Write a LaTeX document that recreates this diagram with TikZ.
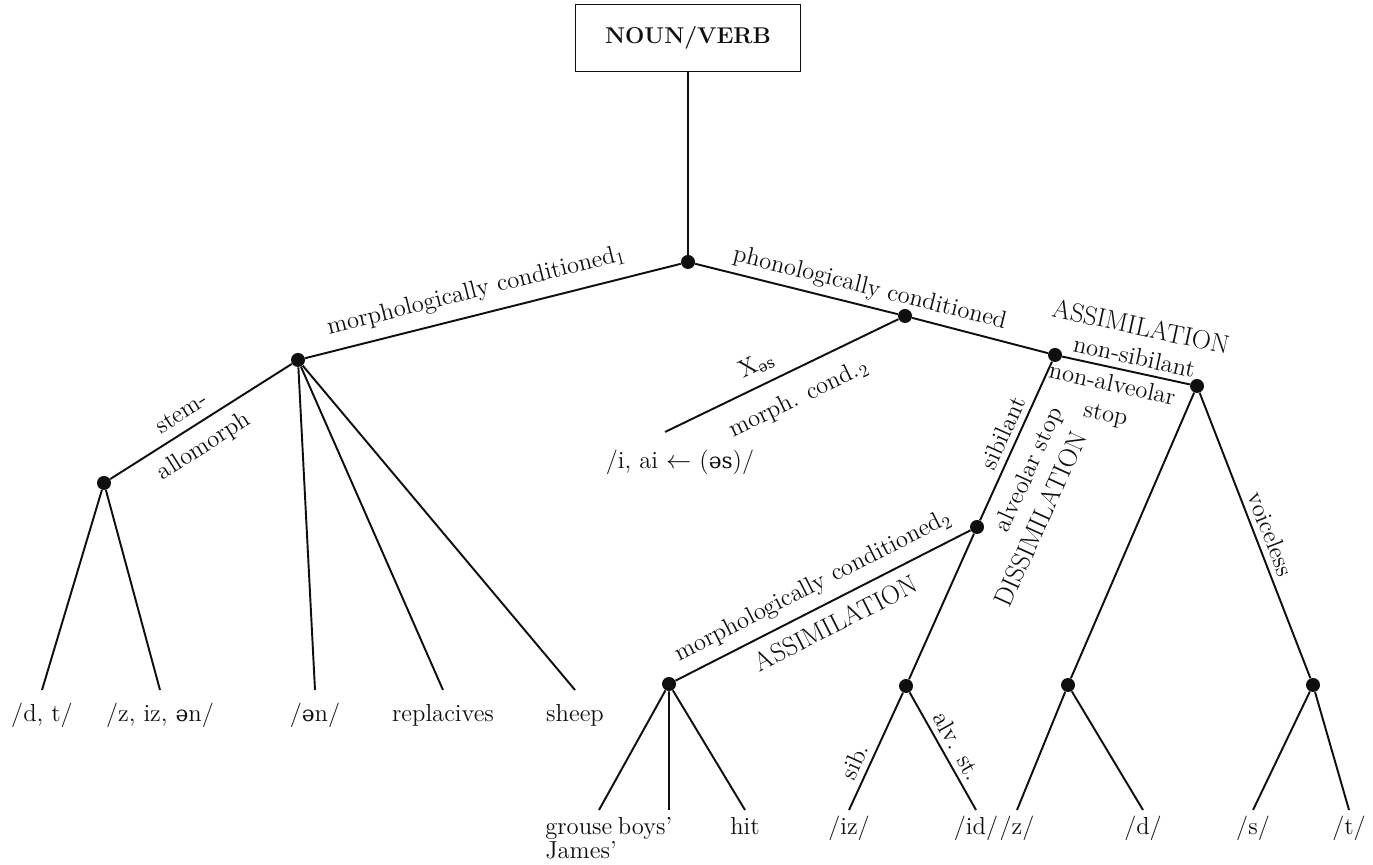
\documentclass[tikz,border=0pt]{standalone}
\usepackage{fontspec}
\newfontfamily\iparm{DejaVu Serif}[Scale=0.88]
\usetikzlibrary{positioning}
\definecolor{AlloInk}{RGB}{15,15,15}
\newcommand\allofont{\fontsize{14}{17}\selectfont}
\tikzset{
  allo/box/.style={
    draw=AlloInk,
    line width=1.1pt,
    fill=white,
    align=center,
    text=AlloInk,
    minimum width=4.5cm,
    minimum height=1.34cm,
    font=\fontsize{13}{15}\selectfont\bfseries
  },
  allo/dot/.style={circle, fill=AlloInk, inner sep=0pt, minimum size=0.28cm},
  allo/edge/.style={line width=1.1pt, draw=AlloInk},
  allo/leaf/.style={
    anchor=north,
    inner xsep=2pt,
    inner ysep=8pt,
    text height=10pt,
    text depth=3pt,
    text=AlloInk,
    font=\allofont
  },
  allo/lowleaf/.style={allo/leaf, inner ysep=3.6pt},
  allo/lab/.style={sloped, text=AlloInk, font=\allofont, align=center},
  allo/caps/.style={allo/lab, font=\fontsize{15}{17}\selectfont},
  allo/text/.style={text=AlloInk, font=\allofont}
}

\begin{document}
\begin{tikzpicture}[x=1cm,y=1cm]
  \useasboundingbox (0,0) rectangle (27.46,17.3);
  \node[allo/box] (nv) at (13.76,16.54) {NOUN/VERB};
  % branching points
  \node[allo/dot] (root) at (13.76,12.06) {};
  \node[allo/dot] (morph) at (5.96,10.10) {};
  \node[allo/dot] (stem) at (2.08,7.64) {};
  \node[allo/dot] (phon) at (18.10,10.98) {};
  \node[allo/dot] (sibq) at (21.10,10.20) {};
  \node[allo/dot] (assim) at (23.94,9.58) {};
  \node[allo/dot] (dissim) at (19.54,6.76) {};
  \node[allo/dot] (morphtwo) at (13.38,3.62) {};
  \node[allo/dot] (sibalv) at (18.12,3.58) {};
  \node[allo/dot] (voiced) at (21.36,3.60) {};
  \node[allo/dot] (voiceless) at (26.26,3.60) {};
  \coordinate (xas) at (13.30,8.66);
  % leaves, upper row
  \node[allo/leaf] (dt) at (0.84,3.5) {/d, t/};
  \node[allo/leaf] (ziz) at (3.2,3.5) {/z, iz, {\iparm ə}n/};
  \node[allo/leaf] (en) at (6.3,3.5) {/{\iparm ə}n/};
  \node[allo/leaf] (repl) at (8.86,3.5) {replacives};
  \node[allo/leaf] (sheep) at (11.5,3.5) {sheep};
  % leaves, lower row
  \node[allo/lowleaf,align=left,text height=,text depth=] (grouse) at (11.62,1.1)
    {\rule{0pt}{10pt}grouse\\[-3pt]James'};
  \node[allo/lowleaf] (boys) at (12.9,1.1) {boys'};
  \node[allo/lowleaf] (hit) at (14.9,1.1) {hit};
  \node[allo/lowleaf] (iz) at (16.98,1.1) {/iz/};
  \node[allo/lowleaf] (id) at (19.52,1.1) {/id/};
  \node[allo/lowleaf] (z) at (20.34,1.1) {/z/};
  \node[allo/lowleaf] (d) at (22.86,1.1) {/d/};
  \node[allo/lowleaf] (s) at (25.06,1.1) {/s/};
  \node[allo/lowleaf] (t) at (26.98,1.1) {/t/};
  \node[allo/text] (iai) at (13.6,8.06) {/i, ai $\leftarrow$ ({\iparm əs})/};

  \draw[allo/edge] (nv) -- (root);
  \draw[allo/edge] (root) -- node[allo/lab,above=3pt,pos=0.53] {morphologically conditioned$_1$} (morph);
  \draw[allo/edge] (root) -- node[allo/lab,above,pos=0.84] {phonologically conditioned} (phon)
    -- (sibq)
    -- node[allo/caps,above,pos=0.54] {ASSIMILATION\\{\allofont non-sibilant}}
       node[allo/lab,below,pos=0.42] {non-alveolar\\stop} (assim);
  \draw[allo/edge] (morph) -- node[allo/lab,above=2pt,pos=0.555] {stem-}
    node[allo/lab,below=3pt,pos=0.55] {allomorph} (stem);
  \draw[allo/edge] (stem) -- (dt.north);
  \draw[allo/edge] (stem) -- (ziz.north);
  \draw[allo/edge] (morph) -- (en.north);
  \draw[allo/edge] (morph) -- (repl.north);
  \draw[allo/edge] (morph) -- (sheep.north);
  \draw[allo/edge] (phon) -- node[allo/lab,above=2pt,pos=0.57] {X\textsubscript{\iparm əs}}
    node[allo/lab,below=6pt,pos=0.48] {morph. cond.$_2$} (xas);
  \draw[allo/edge] (sibq) -- node[allo/lab,above,pos=0.49] {sibilant}
    node[allo/lab,below=4pt,pos=0.62] {alveolar stop}
    node[allo/caps,below=0.76cm,pos=0.85] {DISSIMILATION} (dissim);
  \draw[allo/edge] (dissim) -- node[allo/lab,above=2pt,pos=0.5] {morphologically conditioned$_2$}
    node[allo/caps,below=3pt,pos=0.49] {ASSIMILATION} (morphtwo);
  \draw[allo/edge] (dissim) -- (sibalv);
  \draw[allo/edge] (morphtwo) -- ([xshift=0.36cm]grouse.north);
  \draw[allo/edge] (morphtwo) -- ([xshift=0.48cm]boys.north);
  \draw[allo/edge] (morphtwo) -- (hit.north);
  \draw[allo/edge] (sibalv) -- node[allo/lab,above,pos=0.64] {sib.} (iz.north);
  \draw[allo/edge] (sibalv) -- node[allo/lab,above,pos=0.52] {alv. st.} (id.north);
  \draw[allo/edge] (assim) -- (voiced);
  \draw[allo/edge] (assim) -- node[allo/lab,above,pos=0.515] {voiceless} (voiceless);
  \draw[allo/edge] (voiced) -- (z.north);
  \draw[allo/edge] (voiced) -- (d.north);
  \draw[allo/edge] (voiceless) -- (s.north);
  \draw[allo/edge] (voiceless) -- (t.north);
\end{tikzpicture}
\end{document}
